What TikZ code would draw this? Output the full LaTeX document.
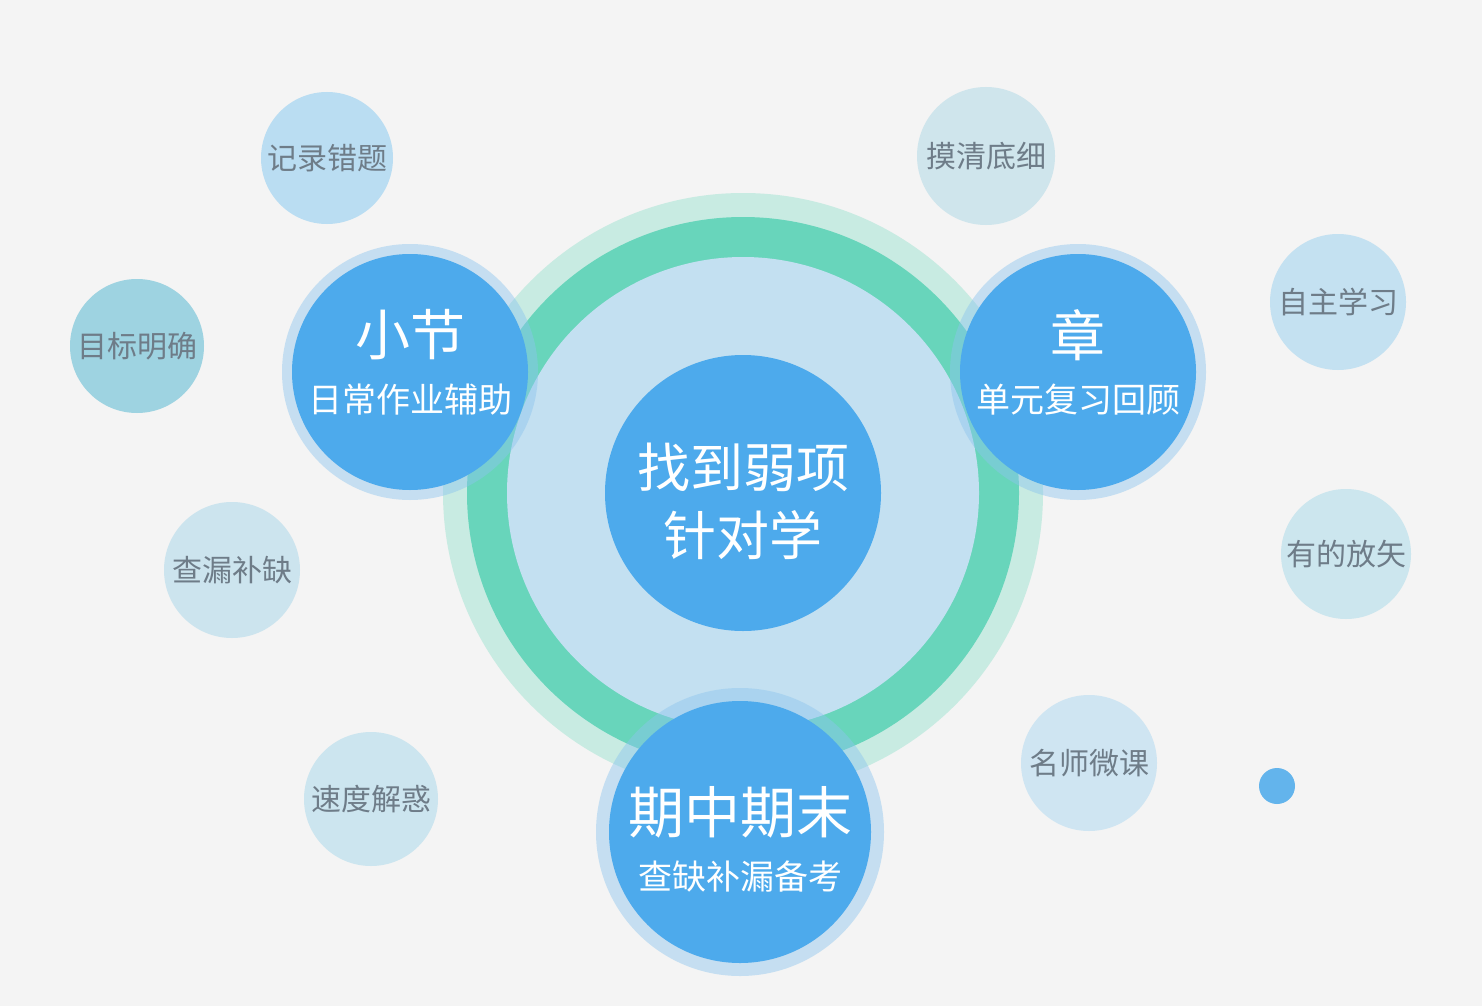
\documentclass[tikz,border=0pt]{standalone}
\usepackage{fontspec}
\setmainfont{Noto Sans CJK SC}
\definecolor{bg}{HTML}{F4F4F4}
\definecolor{ringout}{HTML}{C8EBE2}
\definecolor{ringgreen}{HTML}{68D5BB}
\definecolor{innerblue}{HTML}{C3E0F1}
\definecolor{mainblue}{HTML}{4DAAEC}
\definecolor{halo}{HTML}{8CC5EE}
\definecolor{graytext}{HTML}{6E7C88}
\definecolor{dotblue}{HTML}{63B4EC}
\tikzset{
  disk/.style={circle, inner sep=0pt, draw=none},
  smallb/.style={disk, minimum size=134pt, text=graytext, font=\fontsize{30}{30}\selectfont},
  halob/.style={disk, fill=halo, fill opacity=0.45},
  mainb/.style={disk, fill=mainblue},
  titlet/.style={text=white, inner sep=0pt, font=\fontsize{55}{55}\selectfont},
  subt/.style={text=white, inner sep=0pt, font=\fontsize{34}{34}\selectfont},
}
\begin{document}
\begin{tikzpicture}[x=1pt,y=-1pt]
\fill[bg] (0,0) rectangle (1482,1006);
\useasboundingbox (0,0) rectangle (1482,1006);
% central rings
\node[disk, fill=ringout, minimum size=600pt] (ringA) at (743,493) {};
\node[disk, fill=ringgreen, minimum size=552pt] (ringB) at (743,493) {};
\node[disk, fill=innerblue, minimum size=472pt] (ringC) at (743,493) {};
\node[mainb, minimum size=276pt] (core) at (743,493) {};
\node[titlet, font=\fontsize{53}{53}\selectfont] (coreT1) at (743,467) {找到弱项};
\node[titlet, font=\fontsize{53}{53}\selectfont] (coreT2) at (743,535) {针对学};
% small bubbles
\node[smallb, fill={rgb,255:red,186;green,221;blue,242}, minimum size=132pt] (b1) at (327,158) {记录错题};
\node[smallb, fill={rgb,255:red,158;green,211;blue,225}] (b2) at (137,346) {目标明确};
\node[smallb, fill={rgb,255:red,204;green,228;blue,238}, minimum size=136pt] (b3) at (232,570) {查漏补缺};
\node[smallb, fill={rgb,255:red,204;green,229;blue,239}] (b4) at (371,799) {速度解惑};
\node[smallb, fill={rgb,255:red,207;green,229;blue,236}, minimum size=138pt] (b5) at (986,156) {摸清底细};
\node[smallb, fill={rgb,255:red,196;green,225;blue,241}, minimum size=136pt] (b6) at (1338,302) {自主学习};
\node[smallb, fill={rgb,255:red,204;green,230;blue,238}, minimum size=130pt] (b7) at (1346,554) {有的放矢};
\node[smallb, fill={rgb,255:red,207;green,229;blue,242}, minimum size=136pt] (b8) at (1089,763) {名师微课};
\node[disk, fill=dotblue, minimum size=36pt] (dot) at (1277,786) {};
% section bubbles
\node[halob, minimum size=256pt] (h1) at (410,372) {};
\node[mainb, minimum size=236pt] (m1) at (410,372) {};
\node[titlet] (m1a) at (410,335) {小节};
\node[subt] (m1b) at (410,400) {日常作业辅助};
\node[halob, minimum size=256pt] (h2) at (1078,372) {};
\node[mainb, minimum size=236pt] (m2) at (1078,372) {};
\node[titlet] (m2a) at (1078,335) {章};
\node[subt] (m2b) at (1078,400) {单元复习回顾};
\node[halob, minimum size=288pt] (h3) at (740,832) {};
\node[mainb, minimum size=262pt] (m3) at (740,832) {};
\node[titlet, font=\fontsize{56}{56}\selectfont] (m3a) at (740,812) {期中期末};
\node[subt] (m3b) at (740,877) {查缺补漏备考};
\end{tikzpicture}
\end{document}
